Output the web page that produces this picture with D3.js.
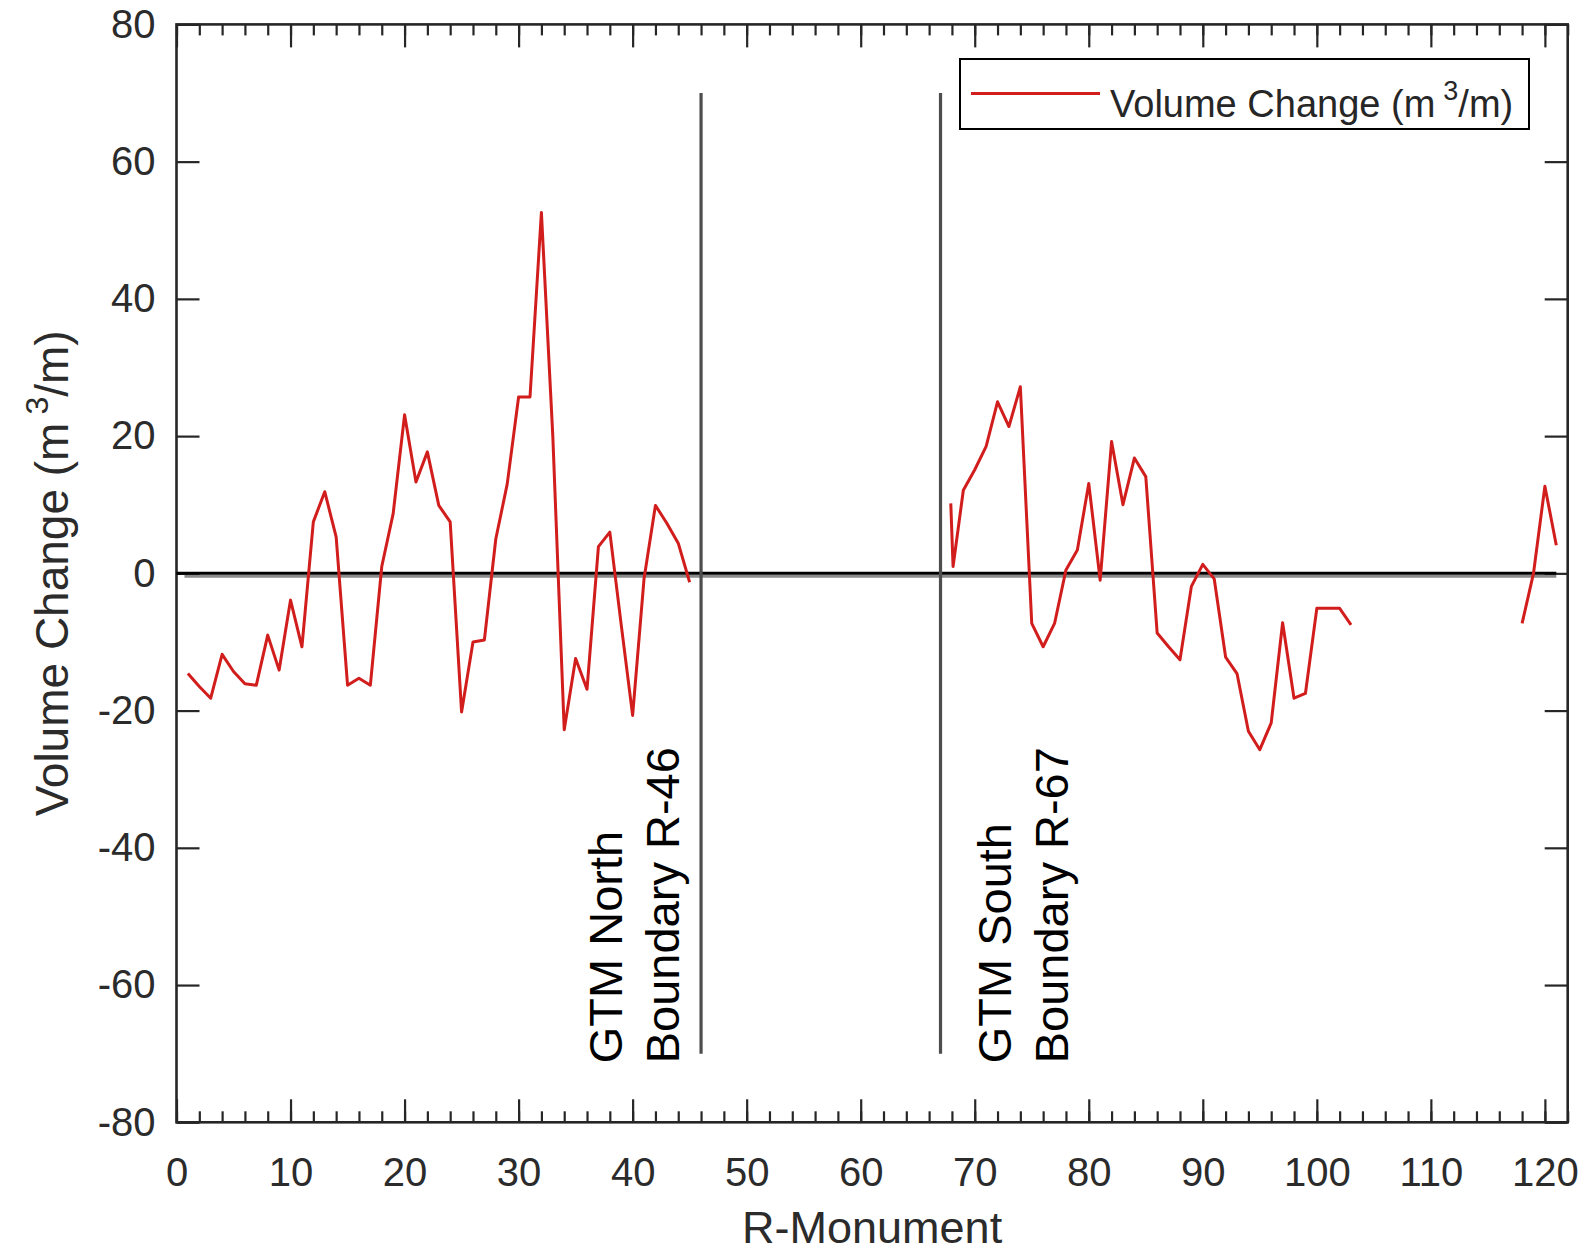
<!DOCTYPE html>
<html>
<head>
<meta charset="utf-8">
<script src="https://cdn.jsdelivr.net/npm/d3@7"></script>
<style>
  body { margin: 0; background: #fff; }
  svg text { font-family: "Liberation Sans", Arial, Helvetica, sans-serif; }
</style>
</head>
<body>
<div id="chart"></div>
<script>
// surveyed stretches (R-monument, volume change m3/m)
const northMonuments = [1, 2, 3, 4, 5, 6, 7, 8, 9, 10, 11, 12, 13, 14, 15, 16, 17, 18, 19, 20,
  21, 22, 23, 24, 25, 26, 27, 28, 29, 30, 31, 32, 33, 34, 35, 36, 37, 38, 39, 40, 41, 42, 43, 44, 45];
const northVolume = [-14.6, -16.5, -18.2, -11.8, -14.3, -16.1, -16.3, -9.0, -14.1, -3.9,
  -10.7, 7.5, 11.9, 5.3, -16.3, -15.3, -16.3, 1.0, 8.7, 23.1,
  13.3, 17.7, 9.9, 7.5, -20.2, -10.0, -9.7, 5.0, 13.0, 25.7,
  25.7, 52.6, 20.0, -22.8, -12.4, -16.9, 3.9, 6.0, -7.5, -20.7,
  -0.8, 9.9, 7.3, 4.4, -1.3];

const southMonuments = [67.9, 68.1, 69, 70, 71, 72, 73, 74, 75, 76, 77, 78, 79, 80, 81, 82, 83, 84, 85,
  86, 87, 88, 89, 90, 91, 92, 93, 94, 95, 96, 97, 98, 99, 100, 101, 102, 103];
const southVolume = [10.2, 1.0, 12.1, 15.1, 18.5, 25.0, 21.4, 27.2, -7.3, -10.7, -7.3, 0.5, 3.4,
  13.1, -1.0, 19.2, 10.0, 16.8, 14.1, -8.7, -10.7, -12.6, -1.9, 1.3, -0.8, -12.2, -14.6,
  -23.0, -25.7, -21.8, -7.2, -18.2, -17.5, -5.1, -5.1, -5.1, -7.5];

const tailMonuments = [118, 119, 120, 121];
const tailVolume = [-7.3, 0.0, 12.7, 4.1];

const boundaryMonuments = [46, 67];
const boundaryLabels = [['GTM North', 'Boundary R-46'], ['GTM South', 'Boundary R-67']];

const xTicks = [0, 10, 20, 30, 40, 50, 60, 70, 80, 90, 100, 110, 120];
const yTicks = [-80, -60, -40, -20, 0, 20, 40, 60, 80];

const W = 1587, H = 1255;
const margin = { top: 24.4, right: 19.3, bottom: 132.7, left: 176.5 };
const width = W - margin.left - margin.right;
const height = H - margin.top - margin.bottom;
const axisColor = '#262626';
const lineColor = '#d21d1d';

const svg = d3.select('#chart').append('svg')
  .attr('width', W)
  .attr('height', H);

const g = svg.append('g')
  .attr('transform', 'translate(' + margin.left + ',' + margin.top + ')');

const x = d3.scaleLinear().domain([0, 122]).range([0, width]);
const y = d3.scaleLinear().domain([-80, 80]).range([height, 0]);

function styleAxis(sel) {
  sel.select('.domain').remove();
  sel.selectAll('line').attr('stroke', axisColor).attr('stroke-width', 2.2);
  sel.selectAll('text').attr('fill', '#2b2b2b').style('font-size', '40px');
}

const minorX = d3.range(0, 123, 2);

// bottom / top ticks (inward)
g.append('g').attr('transform', 'translate(0,' + height + ')')
  .call(d3.axisBottom(x).tickValues(minorX).tickSize(-11).tickFormat(() => ''))
  .call(styleAxis);
g.append('g').attr('transform', 'translate(0,' + height + ')')
  .call(d3.axisBottom(x).tickValues(xTicks).tickSizeInner(-23).tickSizeOuter(0)
    .tickPadding(35).tickFormat(d => String(d)))
  .call(styleAxis);
g.append('g')
  .call(d3.axisTop(x).tickValues(minorX).tickSize(-11).tickFormat(() => ''))
  .call(styleAxis);
g.append('g')
  .call(d3.axisTop(x).tickValues(xTicks).tickSize(-23).tickFormat(() => ''))
  .call(styleAxis);

// left / right ticks
g.append('g')
  .call(d3.axisLeft(y).tickValues(yTicks).tickSizeInner(-23).tickSizeOuter(0)
    .tickPadding(21).tickFormat(d => String(d)))
  .call(styleAxis);
g.append('g').attr('transform', 'translate(' + width + ',0)')
  .call(d3.axisRight(y).tickValues(yTicks).tickSize(-23).tickFormat(() => ''))
  .call(styleAxis);

// frame
g.append('rect')
  .attr('width', width)
  .attr('height', height)
  .attr('fill', 'none')
  .attr('stroke', axisColor)
  .attr('stroke-width', 2.6);

// zero reference line
g.append('line')
  .attr('x1', x(0.7)).attr('x2', x(121))
  .attr('y1', y(0) + 3).attr('y2', y(0) + 3)
  .attr('stroke', '#8a8a8a').attr('stroke-width', 3);
g.append('line')
  .attr('x1', x(0)).attr('x2', x(121))
  .attr('y1', y(0)).attr('y2', y(0))
  .attr('stroke', '#000').attr('stroke-width', 3);

// GTM boundaries
g.selectAll('.boundary')
  .data(boundaryMonuments)
  .enter()
  .append('line')
  .attr('class', 'boundary')
  .attr('x1', d => x(d)).attr('x2', d => x(d))
  .attr('y1', y(70)).attr('y2', y(-70))
  .attr('stroke', '#4d4d4d')
  .attr('stroke-width', 3.2);

// boundary labels, rotated, two lines each
const labelX = [39.1, 73.2];
const labelBottom = -71.4;
boundaryLabels.forEach((lines, i) => {
  lines.forEach((txt, j) => {
    g.append('text')
      .attr('transform', 'translate(' + (x(labelX[i]) + j * 57) + ',' + y(labelBottom) + ') rotate(-90)')
      .attr('text-anchor', 'start')
      .attr('fill', '#000')
      .style('font-size', '47px')
      .text(txt);
  });
});

// volume change line
const line = d3.line()
  .x(d => x(d[0]))
  .y(d => y(d[1]));

const segments = [
  d3.zip(northMonuments, northVolume),
  d3.zip(southMonuments, southVolume),
  d3.zip(tailMonuments, tailVolume)
];

g.selectAll('.vol')
  .data(segments)
  .enter()
  .append('path')
  .attr('class', 'vol')
  .attr('d', line)
  .attr('fill', 'none')
  .attr('stroke', lineColor)
  .attr('stroke-width', 3)
  .attr('stroke-linejoin', 'round');

// legend
const legend = svg.append('g').attr('transform', 'translate(960,59)');
legend.append('rect')
  .attr('width', 569)
  .attr('height', 70)
  .attr('fill', '#fff')
  .attr('stroke', '#000')
  .attr('stroke-width', 2);
legend.append('line')
  .attr('x1', 11).attr('x2', 140)
  .attr('y1', 34.5).attr('y2', 34.5)
  .attr('stroke', lineColor)
  .attr('stroke-width', 3);
const legText = legend.append('text')
  .attr('x', 150)
  .attr('y', 57.5)
  .attr('fill', '#262626')
  .style('font-size', '38px');
legText.append('tspan').text('Volume Change (m');
legText.append('tspan').attr('dx', 8).attr('dy', -17).style('font-size', '27px').text('3');
legText.append('tspan').attr('dy', 17).text('/m)');

// axis titles
svg.append('text')
  .attr('x', margin.left + width / 2)
  .attr('y', 1243)
  .attr('text-anchor', 'middle')
  .attr('fill', '#2b2b2b')
  .style('font-size', '45px')
  .text('R-Monument');

const yTitle = svg.append('text')
  .attr('transform', 'translate(68,' + (margin.top + height / 2) + ') rotate(-90)')
  .attr('text-anchor', 'middle')
  .attr('fill', '#2b2b2b')
  .style('font-size', '46px');
yTitle.append('tspan').text('Volume Change (m');
yTitle.append('tspan').attr('dx', 8).attr('dy', -20).style('font-size', '32px').text('3');
yTitle.append('tspan').attr('dy', 20).text('/m)');
</script>
</body>
</html>
